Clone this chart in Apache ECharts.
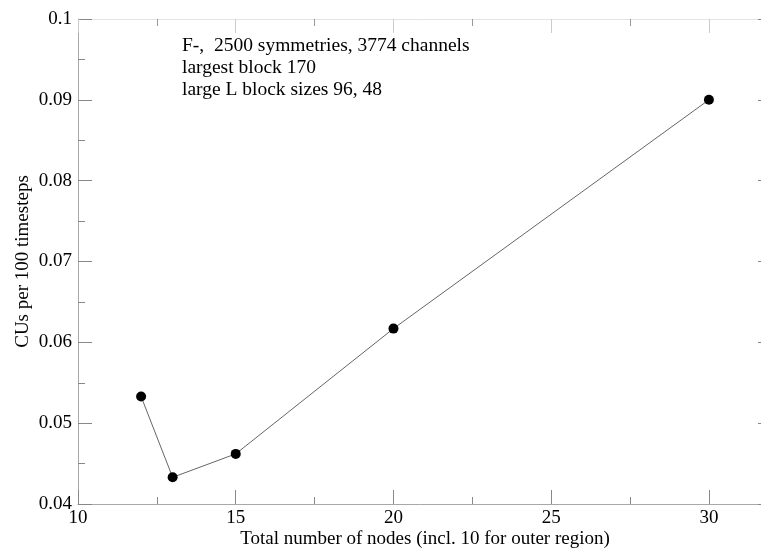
<!DOCTYPE html>
<html>
<head>
<meta charset="utf-8">
<script src="https://cdn.jsdelivr.net/npm/echarts@6/dist/echarts.min.js"></script>
<style>html,body{margin:0;padding:0;background:#fff;}#chart{width:761px;height:551px;}</style>
</head>
<body>
<div id="chart"></div>
<script>
var nodes = [12, 13, 15, 20, 30];
var cus = [0.0533, 0.0433, 0.0462, 0.0617, 0.0900];
var xTicks = [10, 15, 20, 25, 30];
var yTicks = [0.04, 0.05, 0.06, 0.07, 0.08, 0.09, 0.1];
var noteLines = ['F-,  2500 symmetries, 3774 channels', 'largest block 170', 'large L block sizes 96, 48'];

var font = 'Liberation Serif';
var axisGray = '#a8a8a8';
var chart = echarts.init(document.getElementById('chart'), null, {renderer: 'canvas'});

function tickCommon(extra) {
  return Object.assign({
    axisLine: {show: true, lineStyle: {color: axisGray, width: 1}},
    axisTick: {show: true, inside: true, length: 14, lineStyle: {color: '#888', width: 1}},
    minorTick: {show: true, splitNumber: 2, length: 7, lineStyle: {color: '#888', width: 1}},
    splitLine: {show: false},
    minorSplitLine: {show: false}
  }, extra);
}

var option = {
  backgroundColor: '#fff',
  animation: false,
  grid: {left: 78, top: 19, width: 694, height: 485, containLabel: false, outerBoundsMode: 'none'},
  xAxis: [
    tickCommon({
      type: 'value', min: 10, max: 32, interval: 5, position: 'bottom',
      name: 'Total number of nodes (incl. 10 for outer region)',
      nameLocation: 'middle', nameGap: 26, nameMoveOverlap: false,
      nameTextStyle: {fontFamily: font, fontSize: 19, color: '#000'},
      axisLabel: {
        fontFamily: font, fontSize: 19, color: '#000', margin: 5,
        formatter: function (v) { return xTicks.indexOf(v) >= 0 ? String(v) : ''; }
      }
    }),
    tickCommon({
      type: 'value', min: 10, max: 32, interval: 5, position: 'top',
      axisLine: {show: true, lineStyle: {color: '#e4e4e4', width: 1}},
      axisTick: {show: true, inside: true, length: 14, lineStyle: {color: '#ccc', width: 1}},
      minorTick: {show: true, splitNumber: 2, length: 7, lineStyle: {color: '#999', width: 1}},
      axisLabel: {show: false}
    })
  ],
  yAxis: [
    tickCommon({
      type: 'value', min: 0.04, max: 0.1, interval: 0.01, position: 'left',
      name: 'CUs per 100 timesteps',
      nameLocation: 'middle', nameGap: 45, nameRotate: 90, nameMoveOverlap: false,
      nameTextStyle: {fontFamily: font, fontSize: 19, color: '#000'},
      axisLabel: {
        fontFamily: font, fontSize: 19, color: '#000', margin: 6,
        formatter: function (v) {
          var r = Number(v.toFixed(2));
          for (var i = 0; i < yTicks.length; i++) {
            if (Math.abs(yTicks[i] - r) < 1e-9) return String(r);
          }
          return '';
        }
      }
    }),
    tickCommon({
      type: 'value', min: 0.04, max: 0.1, interval: 0.01, position: 'right',
      axisLabel: {show: false}
    })
  ],
  graphic: [{
    type: 'group', left: 182, top: 36,
    children: noteLines.map(function (t, i) {
      return {
        type: 'text', left: 0, top: i * 22,
        style: {text: t, font: '19.5px "' + font + '"', fill: '#000'}
      };
    })
  }],
  series: [{
    type: 'line',
    xAxisIndex: 0, yAxisIndex: 0,
    data: nodes.map(function (n, i) { return [n, cus[i]]; }),
    symbol: 'circle', symbolSize: 10,
    itemStyle: {color: '#000'},
    lineStyle: {color: '#666', width: 1},
    z: 5
  }]
};
chart.setOption(option);
</script>
</body>
</html>
